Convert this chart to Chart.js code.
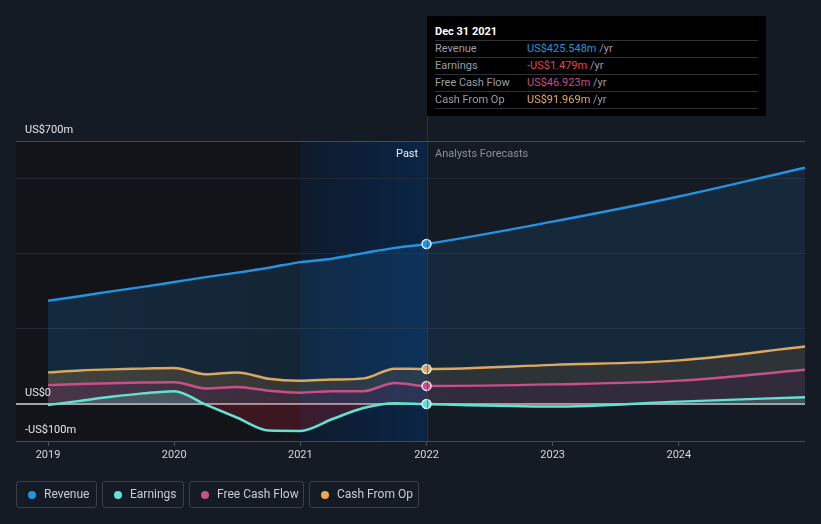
<!DOCTYPE html>
<html lang="en">
<head>
  <meta charset="UTF-8" />
  <title>Revenue, Earnings and Cash Flow</title>
  <script src="https://cdn.jsdelivr.net/npm/chart.js@4.4.0/dist/chart.umd.min.js"></script>
  <style>
    html, body {
      margin: 0;
      padding: 0;
      background: #151b25;
      font-family: Roboto, "Noto Sans", Arial, sans-serif;
    }
    #wrap {
      position: relative;
      width: 821px;
      height: 524px;
      overflow: hidden;
    }
    canvas { position: absolute; left: 0; top: 0; }
    .lbl {
      position: absolute;
      font-size: 11px;
      line-height: 13px;
      white-space: nowrap;
    }
    #tip {
      position: absolute;
      left: 427px;
      top: 16px;
      width: 339px;
      height: 100px;
      background: #000;
      font-size: 11px;
    }
    #tip .head {
      position: absolute; left: 8px; top: 9px;
      color: #fff; font-weight: bold;
    }
    #tip .row {
      position: absolute; left: 8px; width: 323px; height: 16px;
      border-top: 1px solid #2e3136;
      line-height: 16px;
    }
    #tip .row span.k { color: #9a9ea6; position: absolute; left: 0; }
    #tip .row span.v { position: absolute; left: 92px; }
    #tip .row span.u { color: #9a9ea6; }
    #legend {
      position: absolute; left: 16px; top: 481px;
      display: flex; gap: 5px;
    }
    .item {
      box-sizing: border-box;
      height: 27px;
      border: 1px solid #3a3f49;
      border-radius: 3px;
      color: #c9cdd3;
      font-size: 12px;
      line-height: 25px;
      padding: 0 0 0 27px;
      position: relative;
      white-space: nowrap;
    }
    .item i {
      position: absolute; left: 11px; top: 9px;
      width: 8px; height: 8px; border-radius: 50%;
    }
  </style>
</head>
<body>
<div id="wrap">
  <canvas id="chart" width="821" height="524"></canvas>
  <div class="lbl" style="left:25px; top:123px; color:#e4e6ea;">US$700m</div>
  <div class="lbl" style="left:25px; top:386px; color:#e4e6ea;">US$0</div>
  <div class="lbl" style="left:25px; top:423px; color:#e4e6ea;">-US$100m</div>
  <div class="lbl" style="left:396px; top:147px; color:#f0f0f0;">Past</div>
  <div class="lbl" style="left:435px; top:147px; color:#8b9099;">Analysts Forecasts</div>
  <div id="tip"></div>
  <div id="legend"></div>
</div>

<script>
  // x positions as decimal years (2022.0 = Dec 31 2021)
  const dates = [2019.0, 2019.25, 2019.5, 2019.75, 2020.0, 2020.25, 2020.5, 2020.75,
                 2021.0, 2021.25, 2021.5, 2021.75, 2022.0, 2023.0, 2024.0, 2025.0];
  const revenue  = [274, 286, 299, 311, 324, 337, 349, 362, 377, 386, 401, 415, 425.5, 485, 552, 629];
  const earnings = [-4, 7, 18, 27, 33, -3, -38, -72, -73, -42, -12, 1, -1.5, -8, 5, 17];
  const freeCash = [49, 52, 54, 56, 57, 40, 44, 34, 29, 33, 33, 55, 46.9, 51, 61, 90];
  const cashOp   = [83, 88, 91, 93, 95, 78, 83, 66, 61, 64, 67, 93, 92.0, 103, 115, 152];

  const yearTicks = [2019, 2020, 2021, 2022, 2023, 2024];
  const yLines = [-100, 0, 200, 400, 600, 700];
  const highlightDate = 2022.0;
  const pastStart = 2021.0;

  const seriesNames = ['Revenue', 'Earnings', 'Free Cash Flow', 'Cash From Op'];
  const seriesColors = ['#2394df', '#5fe3d2', '#c94f89', '#e8aa55'];
  const legendWidths = [81, 82, 115, 110];

  const tipDate = 'Dec 31 2021';
  const tipValues = ['US$425.548m', '-US$1.479m', 'US$46.923m', 'US$91.969m'];
  const tipColors = ['#2394df', '#e84545', '#c94f89', '#e8aa55'];

  // tooltip box
  const tip = document.getElementById('tip');
  let html = '<div class="head">' + tipDate + '</div>';
  seriesNames.forEach((n, i) => {
    html += '<div class="row" style="top:' + (24 + i * 17) + 'px">' +
      '<span class="k">' + n + '</span>' +
      '<span class="v"><span style="color:' + tipColors[i] + '">' + tipValues[i] + '</span>' +
      ' <span class="u">/yr</span></span></div>';
  });
  html += '<div class="row" style="top:92px"></div>';
  tip.innerHTML = html;

  // legend
  const legend = document.getElementById('legend');
  seriesNames.forEach((n, i) => {
    const d = document.createElement('div');
    d.className = 'item';
    d.style.width = legendWidths[i] + 'px';
    d.innerHTML = '<i style="background:' + seriesColors[i] + '"></i>' + n;
    legend.appendChild(d);
  });

  function pts(vals) {
    return vals.map((v, i) => ({ x: dates[i], y: v }));
  }

  const hiIndex = dates.indexOf(highlightDate);

  function fadeFill(rgb, a0, a1) {
    return function (context) {
      const chart = context.chart;
      const area = chart.chartArea;
      if (!area) return 'rgba(' + rgb + ',' + a1 + ')';
      const g = chart.ctx.createLinearGradient(area.left, 0, area.right, 0);
      g.addColorStop(0, 'rgba(' + rgb + ',' + a0 + ')');
      g.addColorStop(0.55, 'rgba(' + rgb + ',' + a1 + ')');
      g.addColorStop(1, 'rgba(' + rgb + ',' + a1 + ')');
      return g;
    };
  }

  const bands = {
    id: 'bands',
    beforeDraw(chart) {
      const { ctx, chartArea: a, scales: { x } } = chart;
      const xPast = x.getPixelForValue(pastStart);
      const xHi = x.getPixelForValue(highlightDate);
      ctx.save();
      ctx.fillStyle = '#121419';
      ctx.fillRect(a.left, a.top, xPast - a.left, a.bottom - a.top);
      const g = ctx.createLinearGradient(xPast, 0, xHi, 0);
      g.addColorStop(0, '#0e1a2b');
      g.addColorStop(1, '#0a2546');
      ctx.fillStyle = g;
      ctx.fillRect(xPast, a.top, xHi - xPast, a.bottom - a.top);
      ctx.restore();
    },
    afterDatasetsDraw(chart) {
      const { ctx, chartArea: a, scales: { x } } = chart;
      const xHi = Math.round(x.getPixelForValue(highlightDate)) + 0.5;
      ctx.save();
      ctx.strokeStyle = 'rgba(40,75,130,0.55)';
      ctx.lineWidth = 1;
      ctx.beginPath();
      ctx.moveTo(xHi, 116);
      ctx.lineTo(xHi, a.bottom);
      ctx.stroke();
      ctx.restore();
    }
  };

  function lineSet(i, vals, fill, bg) {
    return {
      label: seriesNames[i],
      data: pts(vals),
      borderColor: seriesColors[i],
      borderWidth: 2.5,
      backgroundColor: bg,
      fill: fill,
      cubicInterpolationMode: 'monotone',
      pointRadius: ctx => ctx.dataIndex === hiIndex ? 4.5 : 0,
      pointHoverRadius: 0,
      pointBackgroundColor: seriesColors[i],
      pointBorderColor: '#e8eef5',
      pointBorderWidth: 1.5
    };
  }

  new Chart(document.getElementById('chart').getContext('2d'), {
    type: 'line',
    data: {
      datasets: [
        lineSet(0, revenue, 3, fadeFill('33,150,243', 0.17, 0.11)),
        lineSet(1, earnings, { target: 'origin', above: 'rgba(110,215,200,0.22)', below: 'rgba(200,35,50,0.24)' }, 'rgba(0,0,0,0)'),
        lineSet(2, freeCash, 'origin', fadeFill('190,125,175', 0.33, 0.17)),
        lineSet(3, cashOp, 2, fadeFill('150,150,130', 0.38, 0.2))
      ]
    },
    options: {
      responsive: false,
      animation: false,
      devicePixelRatio: 1,
      layout: { padding: { left: 16, right: 16, top: 141, bottom: 53 } },
      plugins: {
        legend: { display: false },
        tooltip: { enabled: false }
      },
      events: [],
      scales: {
        x: {
          type: 'linear',
          min: 2018.746,
          max: 2025.0,
          afterBuildTicks: s => { s.ticks = yearTicks.map(v => ({ value: v })); },
          afterFit: s => { s.height = 30; },
          ticks: {
            autoSkip: false,
            maxRotation: 0,
            color: '#d4d7dc',
            font: { family: 'Roboto', size: 11 },
            padding: 3,
            callback: v => String(v)
          },
          grid: {
            drawOnChartArea: false,
            drawTicks: true,
            tickLength: 5,
            color: '#4a4f58'
          },
          border: { display: false }
        },
        y: {
          min: -100,
          max: 700,
          afterBuildTicks: s => { s.ticks = yLines.map(v => ({ value: v })); },
          afterFit: s => { s.width = 0; },
          ticks: { display: false },
          grid: {
            drawTicks: false,
            color: c => c.tick.value === 0 ? '#a2a5aa' : (c.tick.value === 700 || c.tick.value === -100 ? '#454a53' : '#242a34'),
            lineWidth: c => c.tick.value === 0 ? 2 : 1
          },
          border: { display: false }
        }
      }
    },
    plugins: [bands]
  });
</script>
</body>
</html>
